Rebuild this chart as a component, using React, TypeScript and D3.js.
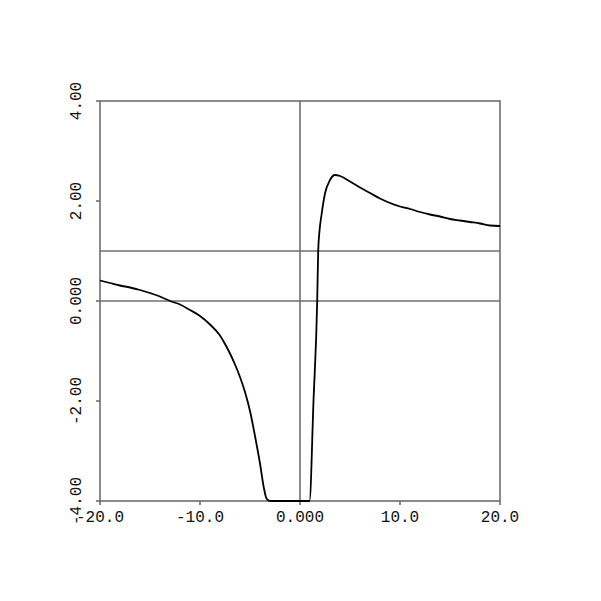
import React from "react";
import * as d3 from "d3";

const xValues = [
  -20, -19, -18, -17, -16, -15, -14, -13, -12, -11, -10, -9, -8, -7.5, -7, -6.5, -6, -5.5, -5, -4.5, -4, -3.6,
  -3.35, -3.0, -2, -1, 0, 0.95, 1.35, 1.72, 1.82, 1.95, 2.15, 2.5, 3.0, 3.5, 4.0, 5, 6, 7, 8, 9, 10, 11, 12,
  13, 14, 15, 16, 17, 18, 19, 20,
];
const yValues = [
  0.41, 0.36, 0.31, 0.27, 0.22, 0.16, 0.09, 0.0, -0.07, -0.18, -0.3, -0.47, -0.69, -0.86, -1.05, -1.27, -1.52,
  -1.82, -2.2, -2.7, -3.25, -3.75, -3.95, -4, -4, -4, -4, -4, -2.0, 0.0, 1.0, 1.4, 1.72, 2.15, 2.42, 2.52, 2.5,
  2.39, 2.27, 2.16, 2.05, 1.96, 1.89, 1.84, 1.78, 1.73, 1.69, 1.64, 1.61, 1.58, 1.55, 1.51, 1.5,
];
const xTicks = [-20, -10, 0, 10, 20];
const xTickLabels = ["-20.0", "-10.0", "0.000", "10.0", "20.0"];
const yTicks = [-4, -2, 0, 2, 4];
const yTickLabels = ["-4.00", "-2.00", "0.000", "2.00", "4.00"];
const refLinesY = [0, 1];
const refLinesX = [0];

export default function App() {
  const left = 100, right = 500, top = 101, bottom = 501;
  const x = d3.scaleLinear().domain([-20, 20]).range([left, right]);
  const y = d3.scaleLinear().domain([-4, 4]).range([bottom, top]);
  const pts: [number, number][] = xValues.map((v, i) => [v, yValues[i]]);
  const line = d3
    .line<[number, number]>()
    .x((d) => x(d[0]))
    .y((d) => y(d[1]))
    .curve(d3.curveMonotoneX);
  const grey = "#6e6e6e";
  const font = "'Liberation Mono', monospace";

  return (
    <svg
      width={601}
      height={601}
      style={{ position: "absolute", left: 0, top: 0, background: "#fff" }}
    >
      <rect x={left} y={top} width={right - left} height={bottom - top} fill="none" stroke={grey} strokeWidth={1.6} />
      {refLinesY.map((v) => (
        <line key={"h" + v} x1={left} x2={right} y1={y(v)} y2={y(v)} stroke={grey} strokeWidth={1.6} />
      ))}
      {refLinesX.map((v) => (
        <line key={"v" + v} x1={x(v)} x2={x(v)} y1={top} y2={bottom} stroke={grey} strokeWidth={1.6} />
      ))}
      {xTicks.map((t, i) => (
        <g key={"xt" + t}>
          <line x1={x(t)} x2={x(t)} y1={bottom} y2={bottom + 4} stroke={grey} strokeWidth={1.6} />
          <text x={x(t)} y={522} textAnchor="middle" fontFamily={font} fontSize={16} fill="#111">
            {xTickLabels[i]}
          </text>
        </g>
      ))}
      {yTicks.map((t, i) => (
        <g key={"yt" + t}>
          <line x1={left - 4} x2={left} y1={y(t)} y2={y(t)} stroke={grey} strokeWidth={1.6} />
          <text
            transform={`translate(81,${y(t)}) rotate(-90)`}
            textAnchor="middle"
            fontFamily={font}
            fontSize={16}
            fill="#111"
          >
            {yTickLabels[i]}
          </text>
        </g>
      ))}
      <path d={line(pts) || ""} fill="none" stroke="#000" strokeWidth={1.8} />
    </svg>
  );
}
